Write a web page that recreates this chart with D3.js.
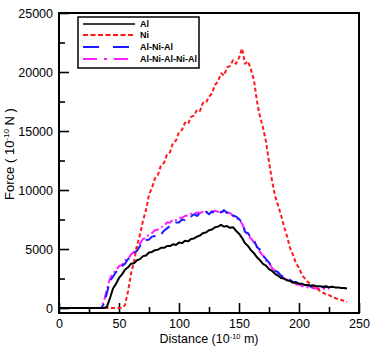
<!DOCTYPE html>
<html>
<head>
<meta charset="utf-8">
<script src="https://cdn.jsdelivr.net/npm/d3@7"></script>
<style>
  body { margin: 0; background: #fff; }
  svg { display: block; font-family: "Liberation Sans", Arial, sans-serif; }
  .axis path, .axis line { stroke: #000; }
  .axis text { font-size: 12.5px; fill: #000; }
</style>
</head>
<body>
<svg id="chart" width="371" height="346"></svg>
<script>
// distance (10^-10 m)
const distance = [0, 2.5, 5, 7.5, 10, 12.5, 15, 17.5, 20, 22.5, 25, 27.5, 30, 32.5, 35, 37.5,
  40, 42.5, 45, 47.5, 50, 52.5, 55, 57.5, 60, 62.5, 65, 67.5, 70, 72.5, 75, 77.5,
  80, 82.5, 85, 87.5, 90, 92.5, 95, 97.5, 100, 102.5, 105, 107.5, 110, 112.5, 115, 117.5,
  120, 122.5, 125, 127.5, 130, 132.5, 135, 137.5, 140, 142.5, 145, 147.5, 150, 152.5, 155, 157.5,
  160, 162.5, 165, 167.5, 170, 172.5, 175, 177.5, 180, 182.5, 185, 187.5, 190, 192.5, 195, 197.5,
  200, 202.5, 205, 207.5, 210, 212.5, 215, 217.5, 220, 222.5, 225, 227.5, 230, 232.5, 235, 237.5, 240];

const forceAl = [0, 0, 0, 0, 0, 0, 0, 0, 0, 0, 0, 0, 0, 0, 0, 0,
  120, 850, 1650, 2050, 2550, 2850, 3250, 3450, 3750, 3800, 4050, 4150, 4400, 4450, 4700, 4750,
  4900, 4950, 5100, 5100, 5250, 5250, 5400, 5350, 5550, 5500, 5700, 5650, 5850, 5900, 6050, 6150,
  6350, 6400, 6600, 6650, 6850, 6900, 7050, 6900, 6950, 6800, 6850, 6550, 6300, 5950, 5500, 5250,
  4900, 4650, 4300, 4050, 3750, 3600, 3300, 3150, 2900, 2750, 2550, 2500, 2350, 2300, 2150, 2150,
  2050, 2050, 1950, 1950, 1900, 1900, 1850, 1850, 1800, 1850, 1750, 1800, 1750, 1750, 1700, 1700, 1650];

const forceNi = [0, 0, 0, 0, 0, 0, 0, 0, 0, 0, 0, 0, 0, 0, 0, 0,
  0, 0, 0, 0, 0, 0, 250, 1400, 2900, 3900, 5300, 6200, 7400, 8300, 9600, 10200,
  11000, 11300, 12100, 12300, 13000, 13200, 14000, 14200, 14900, 15100, 15700, 15600, 16200, 16300, 16800, 16700,
  17400, 17400, 17900, 18200, 18900, 19200, 19900, 19700, 20400, 20500, 21000, 20700, 21200, 22000, 20700, 20900,
  20200, 19300, 17500, 16200, 15300, 14100, 12400, 10800, 9500, 8700, 7900, 6900, 6100, 5100, 4500, 3800,
  3400, 2800, 2500, 2200, 2050, 1800, 1650, 1450, 1300, 1150, 1100, 950, 850, 750, 700, 600, 500];

const forceAlNiAl = [0, 0, 0, 0, 0, 0, 0, 0, 0, 0, 0, 0, 0, 0, 0, 350,
  1300, 2300, 2650, 3050, 3250, 3550, 3750, 4150, 4250, 4650, 4850, 5250, 5450, 5750, 5800, 6050,
  6100, 6300, 6250, 6550, 6750, 6950, 7050, 7250, 7250, 7500, 7450, 7750, 7750, 7950, 7800, 8050,
  8000, 8150, 7950, 8200, 8050, 8250, 8100, 8300, 8050, 8250, 7850, 7750, 7550, 7250, 6450, 6350,
  5950, 5750, 5150, 4950, 4450, 4150, 3850, 3550, 3150, 3050, 2750, 2650, 2450, 2400, 2200, 2200,
  2050, 2050, 1900, 1950, 1800, 1900, 1750, 1850, 1750, 1800, 1750, 1800, 1700, null, null, null, null];

const forceAlNiAlNiAl = [0, 0, 0, 0, 0, 0, 0, 0, 0, 0, 0, 0, 0, 0, 0, 600,
  1650, 2500, 2950, 3150, 3550, 3650, 4050, 4150, 4550, 4750, 5150, 5450, 5850, 5950, 6250, 6350,
  6600, 6650, 6850, 6950, 7250, 7250, 7500, 7450, 7650, 7650, 7800, 7850, 8000, 7950, 8100, 8050,
  8150, 8100, 8200, 8100, 8250, 8150, 8200, 8150, 8100, 8050, 7800, 7650, 7450, 7150, 6600, 6150,
  5900, 5550, 5200, 4750, 4450, 4000, 3800, 3400, 3150, 2900, 2700, 2500, 2400, 2200, 2150, 2000,
  2000, 1850, 1850, 1750, 1750, 1650, 1700, 1600, 1650, 1600, 1650, null, null, null, null, null, null];

const seriesNames = ["Al", "Ni", "Al-Ni-Al", "Al-Ni-Al-Ni-Al"];
const xTicks = [0, 50, 100, 150, 200, 250];
const yTicks = [0, 5000, 10000, 15000, 20000, 25000];

const styles = {
  "Al": { color: "#000000", dash: null, width: 2 },
  "Ni": { color: "#ff1a1a", dash: "4,2.5", width: 2 },
  "Al-Ni-Al": { color: "#1a1aff", dash: "11,7", width: 2 },
  "Al-Ni-Al-Ni-Al": { color: "#ff1aff", dash: "9,3,2,3", width: 2 }
};

const seriesData = {
  "Al": forceAl,
  "Ni": forceNi,
  "Al-Ni-Al": forceAlNiAl,
  "Al-Ni-Al-Ni-Al": forceAlNiAlNiAl
};

const margin = { left: 59, top: 13 };
const width = 300, height = 300;

const svg = d3.select("#chart");
const g = svg.append("g")
  .attr("transform", "translate(" + margin.left + "," + margin.top + ")");

const x = d3.scaleLinear().domain([0, 250]).range([0, width]);
const y = d3.scaleLinear().domain([-420, 25000]).range([height, 0]);

// minor ticks
g.append("g").attr("class", "axis")
  .attr("transform", "translate(0," + height + ")")
  .call(d3.axisBottom(x).tickValues([25, 75, 125, 175, 225]).tickSize(-6).tickFormat(""))
  .call(a => a.select(".domain").remove())
  .selectAll("line").attr("stroke-width", 1.6);
g.append("g").attr("class", "axis")
  .call(d3.axisLeft(y).tickValues([2500, 7500, 12500, 17500, 22500]).tickSize(-6).tickFormat(""))
  .call(a => a.select(".domain").remove())
  .selectAll("line").attr("stroke-width", 1.6);

// major ticks with labels
const gx = g.append("g").attr("class", "axis")
  .attr("transform", "translate(0," + height + ")")
  .call(d3.axisBottom(x).tickValues(xTicks).tickSize(-10).tickPadding(6).tickSizeOuter(0));
gx.select(".domain").remove();
gx.selectAll("line").attr("stroke-width", 1.6);

const gy = g.append("g").attr("class", "axis")
  .call(d3.axisLeft(y).tickValues(yTicks).tickSize(-10).tickPadding(6).tickSizeOuter(0).tickFormat(d3.format("d")));
gy.select(".domain").remove();
gy.selectAll("line").attr("stroke-width", 1.6);

// frame
g.append("rect")
  .attr("x", 0).attr("y", 0)
  .attr("width", width).attr("height", height)
  .attr("fill", "none")
  .attr("stroke", "#000")
  .attr("stroke-width", 2);

const line = d3.line()
  .defined(d => d[1] !== null)
  .x(d => x(d[0]))
  .y(d => y(d[1]));

const drawOrder = ["Al-Ni-Al-Ni-Al", "Al-Ni-Al", "Ni", "Al"];
drawOrder.forEach(function(name) {
  const st = styles[name];
  const pts = distance.map((d, i) => [d, seriesData[name][i]]);
  g.append("path")
    .datum(pts)
    .attr("fill", "none")
    .attr("stroke", st.color)
    .attr("stroke-width", st.width)
    .attr("stroke-dasharray", st.dash)
    .attr("stroke-linejoin", "round")
    .attr("d", line);
});

// legend
const legend = svg.append("g").attr("transform", "translate(78,17)");
legend.append("rect")
  .attr("width", 121).attr("height", 51)
  .attr("fill", "#fff")
  .attr("stroke", "#000")
  .attr("stroke-width", 1.5);
const rows = legend.selectAll(".row")
  .data(seriesNames)
  .enter()
  .append("g")
  .attr("transform", (d, i) => "translate(0," + [7, 18, 30, 42][i] + ")");
rows.append("line")
  .attr("x1", 5).attr("x2", 57)
  .attr("stroke", d => styles[d].color)
  .attr("stroke-width", d => d === "Al" ? 1.6 : 2)
  .attr("stroke-dasharray", d => d === "Ni" ? "5,2.5" : d === "Al-Ni-Al" ? "16,14" : d === "Al-Ni-Al-Ni-Al" ? "14,7,3,7" : null);
rows.append("text")
  .attr("x", 62).attr("y", 3)
  .attr("font-size", "9px")
  .attr("font-weight", "bold")
  .text(d => d);

// axis titles
const xt = svg.append("text")
  .attr("x", 209).attr("y", 343)
  .attr("text-anchor", "middle")
  .attr("font-size", "12.5px");
xt.append("tspan").text("Distance (10");
xt.append("tspan").attr("font-size", "7.5px").attr("dy", -4).text("-10");
xt.append("tspan").attr("dy", 4).text(" m)");

const yt = svg.append("text")
  .attr("transform", "translate(14,154) rotate(-90)")
  .attr("text-anchor", "middle")
  .attr("font-size", "13px");
yt.append("tspan").text("Force ( 10");
yt.append("tspan").attr("font-size", "8px").attr("dy", -5).text("-10");
yt.append("tspan").attr("dy", 5).text(" N )");
</script>
</body>
</html>
